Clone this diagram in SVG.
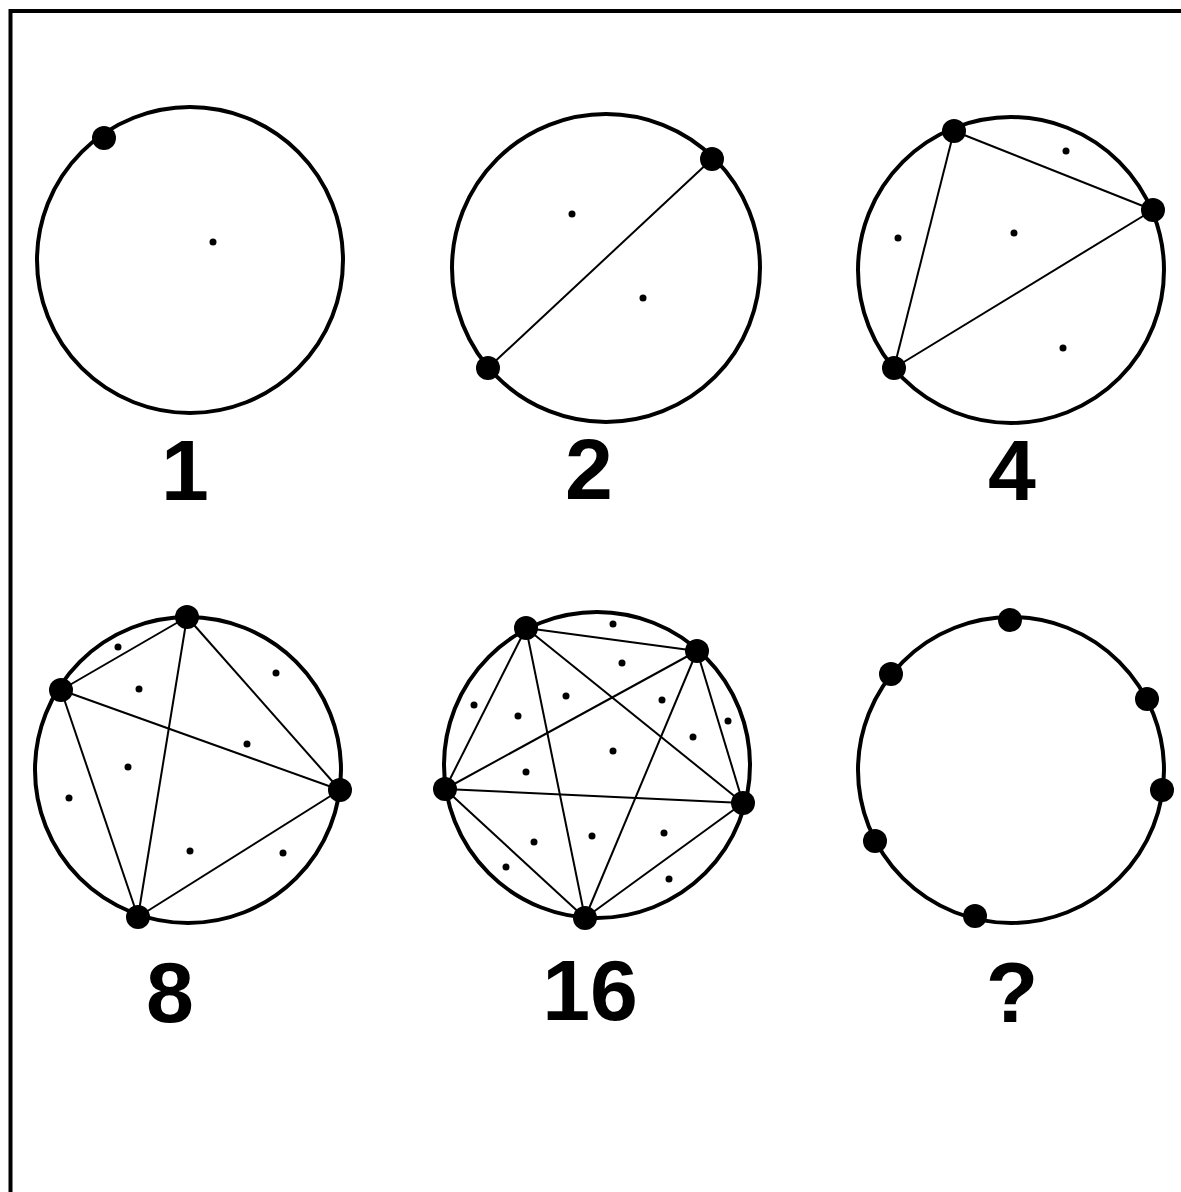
<svg xmlns="http://www.w3.org/2000/svg" width="1181" height="1192" viewBox="0 0 1181 1192">
<style>
.ring{fill:none;stroke:#000;stroke-width:4}
.big{fill:#000}
.sm{fill:#000}
.lbl{font-family:"Liberation Sans",Arial,sans-serif;font-weight:bold;font-size:86px;fill:#000;text-anchor:middle}
.chord{stroke:#000;stroke-width:2;fill:none}
.frame{stroke:#000;stroke-width:4;fill:none}
</style>
<rect width="1181" height="1192" fill="#fff"/>
<path class="frame" d="M10.5 1192 V11 H1181"/>
<g id="connectors">
  <g id="c2-chords">
    <line class="chord" x1="712" y1="159" x2="488" y2="368"/>
  </g>
  <g id="c4-chords">
    <line class="chord" x1="954" y1="131" x2="1153" y2="210"/>
    <line class="chord" x1="954" y1="131" x2="894" y2="368"/>
    <line class="chord" x1="1153" y1="210" x2="894" y2="368"/>
  </g>
  <g id="c8-chords">
    <line class="chord" x1="61" y1="690" x2="187" y2="617"/>
    <line class="chord" x1="61" y1="690" x2="340" y2="790"/>
    <line class="chord" x1="61" y1="690" x2="138" y2="917"/>
    <line class="chord" x1="187" y1="617" x2="340" y2="790"/>
    <line class="chord" x1="187" y1="617" x2="138" y2="917"/>
    <line class="chord" x1="340" y1="790" x2="138" y2="917"/>
  </g>
  <g id="c16-chords">
    <line class="chord" x1="526" y1="628" x2="697" y2="651"/>
    <line class="chord" x1="526" y1="628" x2="445" y2="789"/>
    <line class="chord" x1="526" y1="628" x2="743" y2="803"/>
    <line class="chord" x1="526" y1="628" x2="585" y2="918"/>
    <line class="chord" x1="697" y1="651" x2="445" y2="789"/>
    <line class="chord" x1="697" y1="651" x2="743" y2="803"/>
    <line class="chord" x1="697" y1="651" x2="585" y2="918"/>
    <line class="chord" x1="445" y1="789" x2="743" y2="803"/>
    <line class="chord" x1="445" y1="789" x2="585" y2="918"/>
    <line class="chord" x1="743" y1="803" x2="585" y2="918"/>
  </g>
</g>
<g id="node-1">
  <circle class="ring" cx="190" cy="260" r="153"/>
  <circle class="big" cx="104" cy="138" r="12"/>
  <circle class="sm" cx="213" cy="242" r="3.5"/>
  <text class="lbl" x="185" y="500">1</text>
</g>
<g id="node-2">
  <circle class="ring" cx="606" cy="268" r="154"/>
  <circle class="big" cx="712" cy="159" r="12"/>
  <circle class="big" cx="488" cy="368" r="12"/>
  <circle class="sm" cx="572" cy="214" r="3.5"/>
  <circle class="sm" cx="643" cy="298" r="3.5"/>
  <text class="lbl" x="589" y="499">2</text>
</g>
<g id="node-4">
  <circle class="ring" cx="1011" cy="270" r="153"/>
  <circle class="big" cx="954" cy="131" r="12"/>
  <circle class="big" cx="1153" cy="210" r="12"/>
  <circle class="big" cx="894" cy="368" r="12"/>
  <circle class="sm" cx="1066" cy="151" r="3.5"/>
  <circle class="sm" cx="898" cy="238" r="3.5"/>
  <circle class="sm" cx="1014" cy="233" r="3.5"/>
  <circle class="sm" cx="1063" cy="348" r="3.5"/>
  <text class="lbl" x="1012" y="500">4</text>
</g>
<g id="node-8">
  <circle class="ring" cx="188" cy="770" r="153"/>
  <circle class="big" cx="187" cy="617" r="12"/>
  <circle class="big" cx="61" cy="690" r="12"/>
  <circle class="big" cx="340" cy="790" r="12"/>
  <circle class="big" cx="138" cy="917" r="12"/>
  <circle class="sm" cx="118" cy="647" r="3.5"/>
  <circle class="sm" cx="139" cy="689" r="3.5"/>
  <circle class="sm" cx="276" cy="673" r="3.5"/>
  <circle class="sm" cx="247" cy="744" r="3.5"/>
  <circle class="sm" cx="128" cy="767" r="3.5"/>
  <circle class="sm" cx="69" cy="798" r="3.5"/>
  <circle class="sm" cx="190" cy="851" r="3.5"/>
  <circle class="sm" cx="283" cy="853" r="3.5"/>
  <text class="lbl" x="170" y="1022">8</text>
</g>
<g id="node-16">
  <circle class="ring" cx="597" cy="765" r="153"/>
  <circle class="big" cx="526" cy="628" r="12"/>
  <circle class="big" cx="697" cy="651" r="12"/>
  <circle class="big" cx="445" cy="789" r="12"/>
  <circle class="big" cx="743" cy="803" r="12"/>
  <circle class="big" cx="585" cy="918" r="12"/>
  <circle class="sm" cx="613" cy="624" r="3.5"/>
  <circle class="sm" cx="622" cy="663" r="3.5"/>
  <circle class="sm" cx="566" cy="696" r="3.5"/>
  <circle class="sm" cx="662" cy="700" r="3.5"/>
  <circle class="sm" cx="474" cy="705" r="3.5"/>
  <circle class="sm" cx="518" cy="716" r="3.5"/>
  <circle class="sm" cx="728" cy="721" r="3.5"/>
  <circle class="sm" cx="693" cy="737" r="3.5"/>
  <circle class="sm" cx="613" cy="751" r="3.5"/>
  <circle class="sm" cx="526" cy="772" r="3.5"/>
  <circle class="sm" cx="534" cy="842" r="3.5"/>
  <circle class="sm" cx="592" cy="836" r="3.5"/>
  <circle class="sm" cx="664" cy="833" r="3.5"/>
  <circle class="sm" cx="506" cy="867" r="3.5"/>
  <circle class="sm" cx="669" cy="879" r="3.5"/>
  <text class="lbl" x="590" y="1020">16</text>
</g>
<g id="node-q">
  <circle class="ring" cx="1011" cy="770" r="153"/>
  <circle class="big" cx="1010" cy="620" r="12"/>
  <circle class="big" cx="891" cy="674" r="12"/>
  <circle class="big" cx="1147" cy="699" r="12"/>
  <circle class="big" cx="1162" cy="790" r="12"/>
  <circle class="big" cx="875" cy="841" r="12"/>
  <circle class="big" cx="975" cy="916" r="12"/>
  <text class="lbl" x="1012" y="1022">?</text>
</g>
</svg>
